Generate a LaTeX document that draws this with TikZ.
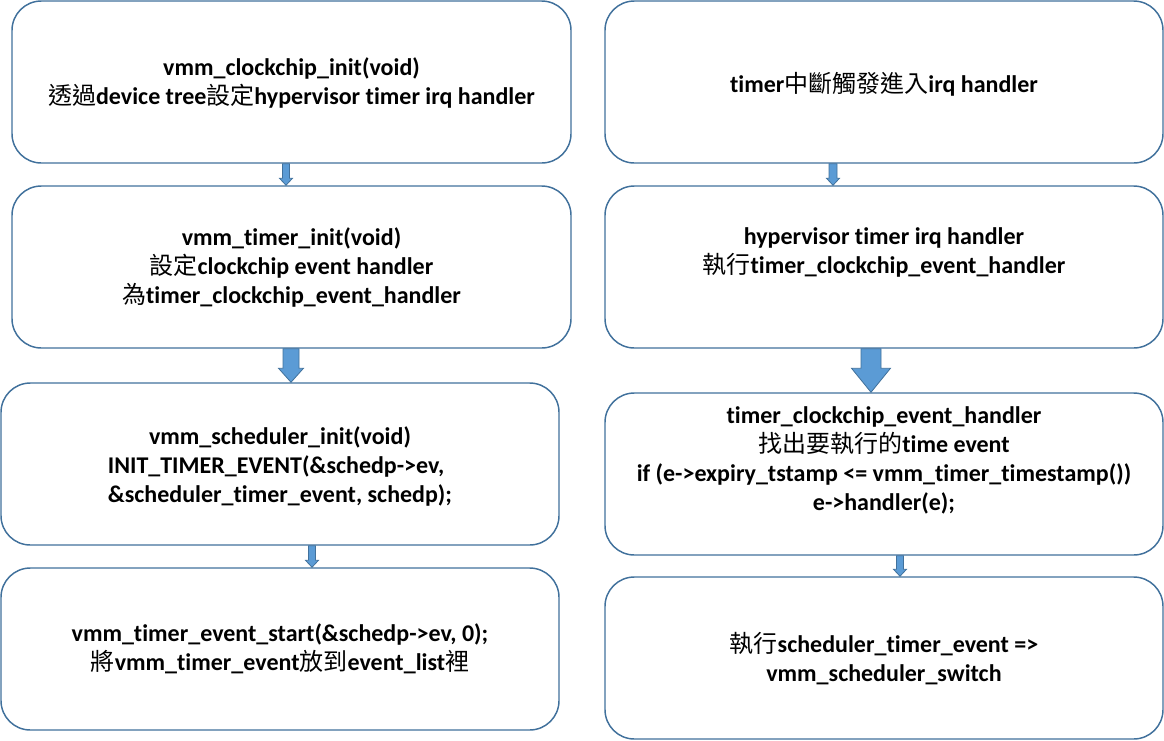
\documentclass[tikz,border=0pt]{standalone}
\usepackage{fontspec}
\setmainfont{Carlito}[Ligatures=NoCommon]
\newfontfamily\cjk{Noto Sans CJK TC}
\newcommand\zh[1]{{\cjk\mdseries #1}}
\usetikzlibrary{calc}
\definecolor{boxline}{HTML}{41719C}
\definecolor{arrfill}{HTML}{5B9BD5}
\tikzset{
  boxnode/.style={draw=boxline, line width=1.1pt, rounded corners=22pt, fill=white, inner sep=0pt},
  txt/.style={align=center, font=\fontsize{18}{21.75}\selectfont\bfseries, inner sep=0pt},
  blockarr/.style={draw=boxline, line width=0.6pt, fill=arrfill, line join=miter}
}
% #1 from node, #2 to node, #3 x (px), #4 shaft width (px), #5 head width (px), #6 head length (px)
\newcommand\barrow[6]{%
  \draw[blockarr] let \p1=(#1.south), \p2=(#2.north) in
    ({(#3-#4/2)*0.75pt},\y1) -- ({(#3+#4/2)*0.75pt},\y1) --
    ({(#3+#4/2)*0.75pt},{\y2+#6*0.75pt}) -- ({(#3+#5/2)*0.75pt},{\y2+#6*0.75pt}) --
    ({#3*0.75pt},\y2) -- ({(#3-#5/2)*0.75pt},{\y2+#6*0.75pt}) --
    ({(#3-#4/2)*0.75pt},{\y2+#6*0.75pt}) -- cycle;}
\begin{document}
\begin{tikzpicture}[x=0.75pt,y=-0.75pt]
\useasboundingbox (0,0) rectangle (1164,740);
% boxes
\node[boxnode, minimum width=559*0.75pt, minimum height=162*0.75pt] (b1) at (291.5,82) {};
\node[boxnode, minimum width=559*0.75pt, minimum height=162*0.75pt] (b2) at (291.5,267) {};
\node[boxnode, minimum width=558*0.75pt, minimum height=162*0.75pt] (b3) at (280,464) {};
\node[boxnode, minimum width=558*0.75pt, minimum height=162*0.75pt] (b4) at (280,649) {};
\node[boxnode, minimum width=558*0.75pt, minimum height=162*0.75pt] (b5) at (884,82) {};
\node[boxnode, minimum width=558*0.75pt, minimum height=162*0.75pt] (b6) at (884,267) {};
\node[boxnode, minimum width=558*0.75pt, minimum height=162*0.75pt] (b7) at (884,474) {};
\node[boxnode, minimum width=558*0.75pt, minimum height=162*0.75pt] (b8) at (884,658) {};
% texts
\node[txt] (t1) at (291.5,82.5) {vmm\_clockchip\_init(void)\\\zh{透過}device tree\zh{設定}hypervisor timer irq handler};
\node[txt] (t2) at (291.5,267) {vmm\_timer\_init(void)\\\zh{設定}clockchip event handler\\\zh{為}timer\_clockchip\_event\_handler};
\node[txt] (t3) at (280,466) {vmm\_scheduler\_init(void)\\\rlap{INIT\_TIMER\_EVENT(\&schedp->ev,}\phantom{\&scheduler\_timer\_event, schedp);}\\\&scheduler\_timer\_event, schedp);};
\node[txt] (t4) at (280,648.5) {vmm\_timer\_event\_start(\&schedp->ev, 0);\\\zh{將}vmm\_timer\_event\zh{放到}event\_list\zh{裡}};
\node[txt] (t5) at (884,84) {timer\zh{中斷觸發進入}irq handler};
\node[txt] (t6) at (884,252.5) {hypervisor timer irq handler\\\zh{執行}timer\_clockchip\_event\_handler};
\node[txt] (t7) at (884,460.5) {timer\_clockchip\_event\_handler\\\zh{找出要執行的}time event\\if (e->expiry\_tstamp <= vmm\_timer\_timestamp())\\e->handler(e);};
\node[txt] (t8) at (884,659) {\zh{執行}scheduler\_timer\_event =>\\vmm\_scheduler\_switch};
% arrows
\barrow{b1}{b2}{286}{7}{13}{7}
\barrow{b2}{b3}{291}{16}{25}{14}
\barrow{b3}{b4}{312}{7}{13}{7}
\barrow{b5}{b6}{833}{8}{13}{7}
\barrow{b6}{b7}{871}{20}{39}{24}
\barrow{b7}{b8}{900}{7}{13}{7}
\end{tikzpicture}
\end{document}
